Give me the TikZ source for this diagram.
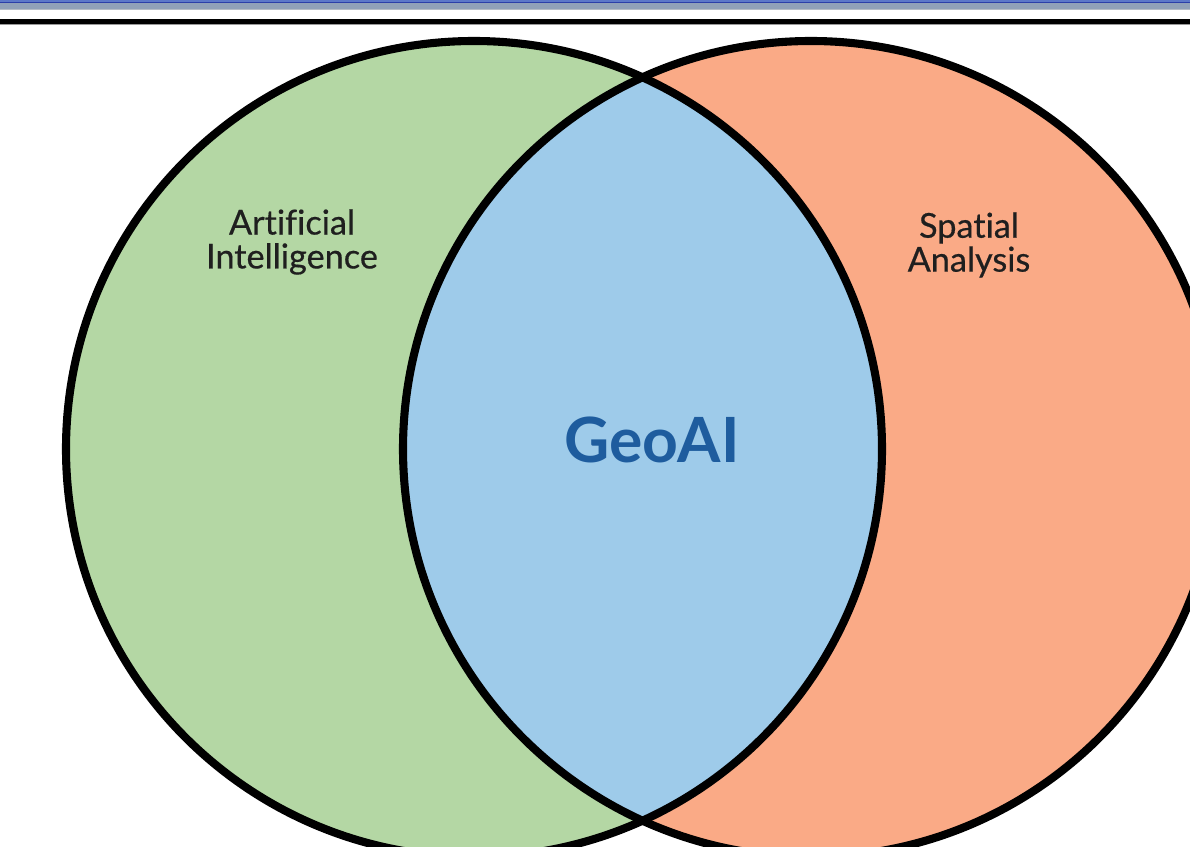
\documentclass[tikz,border=0pt]{standalone}
\usepackage{fontspec}
\setmainfont{Lato}[Ligatures=NoCommon]
\newfontfamily\setfont{Lato}[Ligatures=NoCommon,FakeBold=0.5]
\definecolor{aigreen}{HTML}{B4D7A4}
\definecolor{saorange}{HTML}{FAAA86}
\definecolor{geoblue}{HTML}{9ECBEA}
\definecolor{geotext}{HTML}{1E5C9E}
\definecolor{barblue}{HTML}{2B3FA8}
\definecolor{barlight}{HTML}{5C78C8}
\definecolor{bargrey}{HTML}{90A1B8}
\definecolor{barpale}{HTML}{B4BCC6}

\begin{document}
\begin{tikzpicture}[x=0.02cm,y=-0.02cm,
    ring/.style={draw=black,line width=4.6pt},
    lbl/.style={font=\setfont\fontsize{19.5}{19.3}\selectfont,align=center,text=black!88},
    core/.style={font=\fontsize{35.5}{40}\selectfont\bfseries,text=geotext}]
  \useasboundingbox (0,0) rectangle (1190,847);
  \clip (0,0) rectangle (1190,847);
  % header bars
  \fill[barlight] (0,0) rectangle (1190,1.7);
  \fill[barblue] (0,1.7) rectangle (1190,3.3);
  \fill[bargrey] (0,3.3) rectangle (1190,9);
  \fill[barpale] (0,9) rectangle (1190,10);
  \fill[black] (0,18.6) rectangle (1190,23.7);
  \fill[black!40] (0,23.7) rectangle (1190,24.7);
  % the two sets
  \coordinate (cai) at (474,449);
  \coordinate (csa) at (811,449);
  \fill[aigreen] (cai) circle[radius=408];
  \fill[saorange] (csa) circle[radius=408];
  \begin{scope}
    \clip (cai) circle[radius=408];
    \fill[geoblue] (csa) circle[radius=408];
  \end{scope}
  \draw[ring] (cai) circle[radius=408];
  \draw[ring] (csa) circle[radius=408];
  % labels
  \node[lbl] (ai) at (292,242) {Artificial\\Intelligence};
  \node[lbl] (sa) at (969,245) {Spatial\\Analysis};
  \node[core] (geo) at (652,440) {GeoAI};
\end{tikzpicture}
\end{document}
